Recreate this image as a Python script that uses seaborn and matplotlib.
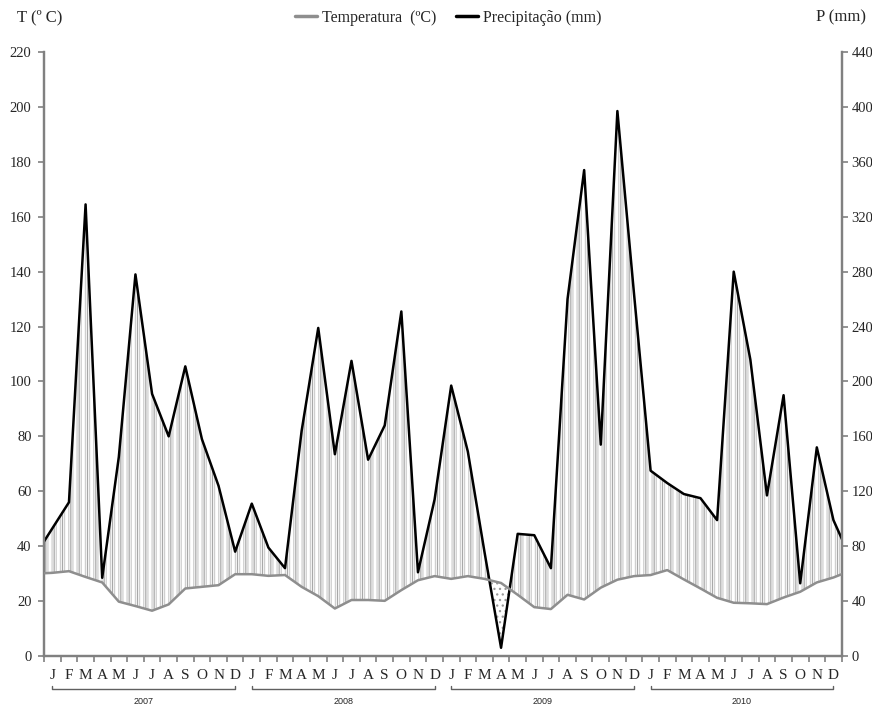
import numpy as np
import pandas as pd
import matplotlib
matplotlib.use('Agg')
import matplotlib.pyplot as plt
import seaborn as sns

sns.set_theme(style='white')
plt.rcParams['font.family'] = ['Liberation Serif', 'DejaVu Serif']
plt.rcParams['hatch.linewidth'] = 0.9

# meses 2007-2010
meses = ['J', 'F', 'M', 'A', 'M', 'J', 'J', 'A', 'S', 'O', 'N', 'D'] * 4
anos = ['2007', '2008', '2009', '2010']

# temperatura media mensal (ºC)
temperatura = [30.3, 30.9, 28.8, 26.8, 19.8, 18.2, 16.5, 18.8, 24.6, 25.2, 25.8, 29.8,
               29.8, 29.2, 29.5, 25.2, 21.8, 17.3, 20.4, 20.4, 20.1, 24.0, 27.6, 29.1,
               28.1, 29.1, 28.1, 26.6, 22.3, 17.8, 17.1, 22.3, 20.6, 24.9, 27.8, 29.1,
               29.5, 31.3, 27.9, 24.6, 21.2, 19.4, 19.2, 18.9, 21.3, 23.4, 26.8, 28.6]

# precipitacao mensal (mm)
precipitacao = [93, 112, 329, 57, 145, 278, 191, 160, 211, 158, 124, 76,
                111, 79, 64, 164, 239, 147, 215, 143, 168, 251, 61, 114,
                197, 149, 76, 6, 89, 88, 64, 260, 354, 154, 397, 264,
                135, 126, 118, 115, 99, 280, 216, 117, 190, 53, 152, 99]

# meses vizinhos (dez/2006 e jan/2011), cortados pelo eixo
temp_antes, temp_depois = 30.0, 31.0
prec_antes, prec_depois = 74, 72

n = len(meses)
df = pd.DataFrame({
    'mes': np.arange(-1, n + 1),
    'T': [temp_antes] + temperatura + [temp_depois],
    'P': [prec_antes] + precipitacao + [prec_depois],
})

fig = plt.figure(figsize=(8.72, 7.06), dpi=100)
ax = fig.add_axes([0.0505, 0.0708, 0.9148, 0.8555])
ax2 = ax.twinx()

# area humida (tracejado vertical) e seca (pontilhado)
x = df['mes'].to_numpy()
p = df['P'].to_numpy()
t2 = df['T'].to_numpy() * 2
ax2.fill_between(x, t2, p, where=p >= t2, interpolate=True, facecolor='none',
                 edgecolor='#cfcfcf', hatch='||||', linewidth=0, zorder=1)
ax2.fill_between(x, t2, p, where=p >= t2, interpolate=True, facecolor='none',
                 edgecolor='#a8a8a8', hatch='||', linewidth=0, zorder=1)
ax2.fill_between(x, t2, p, where=p < t2, interpolate=True, facecolor='none',
                 edgecolor='#9a9a9a', hatch='...', linewidth=0, zorder=1)

sns.lineplot(data=df, x='mes', y='P', ax=ax2, color='black', linewidth=1.8, zorder=3)
sns.lineplot(data=df, x='mes', y='T', ax=ax, color='#8e8e8e', linewidth=1.8, zorder=3)

ax.set_zorder(ax2.get_zorder() + 1)
ax.patch.set_visible(False)

ax.set_xlim(-0.5, n - 0.5)
ax.set_ylim(0, 220)
ax2.set_ylim(0, 440)
ax.set_yticks(np.arange(0, 221, 20))
ax2.set_yticks(np.arange(0, 441, 40))
ax.set_xlabel('')
ax.set_ylabel('')
ax2.set_ylabel('')

eixo = '#808080'
for a in (ax, ax2):
    for s in a.spines.values():
        s.set_color(eixo)
        s.set_linewidth(1.6)
    a.spines['top'].set_visible(False)

ax.tick_params(axis='y', left=True, length=4, width=1.2, color=eixo, labelsize=10.5, pad=5)
ax2.tick_params(axis='y', right=True, length=4, width=1.2, color=eixo, labelsize=10.5, pad=3)

ax.set_xticks(np.arange(-0.5, n, 1))
ax.set_xticklabels([])
ax.set_xticks(np.arange(n), minor=True)
ax.set_xticklabels(meses, minor=True, fontsize=11)
ax.tick_params(axis='x', which='major', bottom=True, length=4, width=1.2, color=eixo)
ax.tick_params(axis='x', which='minor', bottom=True, length=0, pad=9)

# chaves dos anos
trans = ax.get_xaxis_transform()
for k, ano in enumerate(anos):
    x0, x1 = 12 * k, 12 * k + 11
    ax.plot([x0, x0, x1, x1], [-0.0497, -0.0546, -0.0546, -0.0497], transform=trans,
            color='#606060', linewidth=1.0, clip_on=False)
    ax.text((x0 + x1) / 2, -0.0745, ano, transform=trans, ha='center', va='center',
            fontsize=6.5, family=['Liberation Sans', 'DejaVu Sans'])

fig.text(0.046, 0.975, 'T (º C)', ha='center', va='center', fontsize=12)
fig.text(0.965, 0.975, 'P (mm)', ha='center', va='center', fontsize=12)

linhas = [plt.Line2D([], [], color='#8e8e8e', linewidth=2.5),
          plt.Line2D([], [], color='black', linewidth=2.5)]
fig.legend(linhas, ['Temperatura  (ºC)', 'Precipitação (mm)'], loc='center',
           bbox_to_anchor=(0.514, 0.975), ncol=2, frameon=False, fontsize=11.5,
           handlelength=1.4, handletextpad=0.3, columnspacing=1.2)

fig.savefig('out.png', dpi=100)
